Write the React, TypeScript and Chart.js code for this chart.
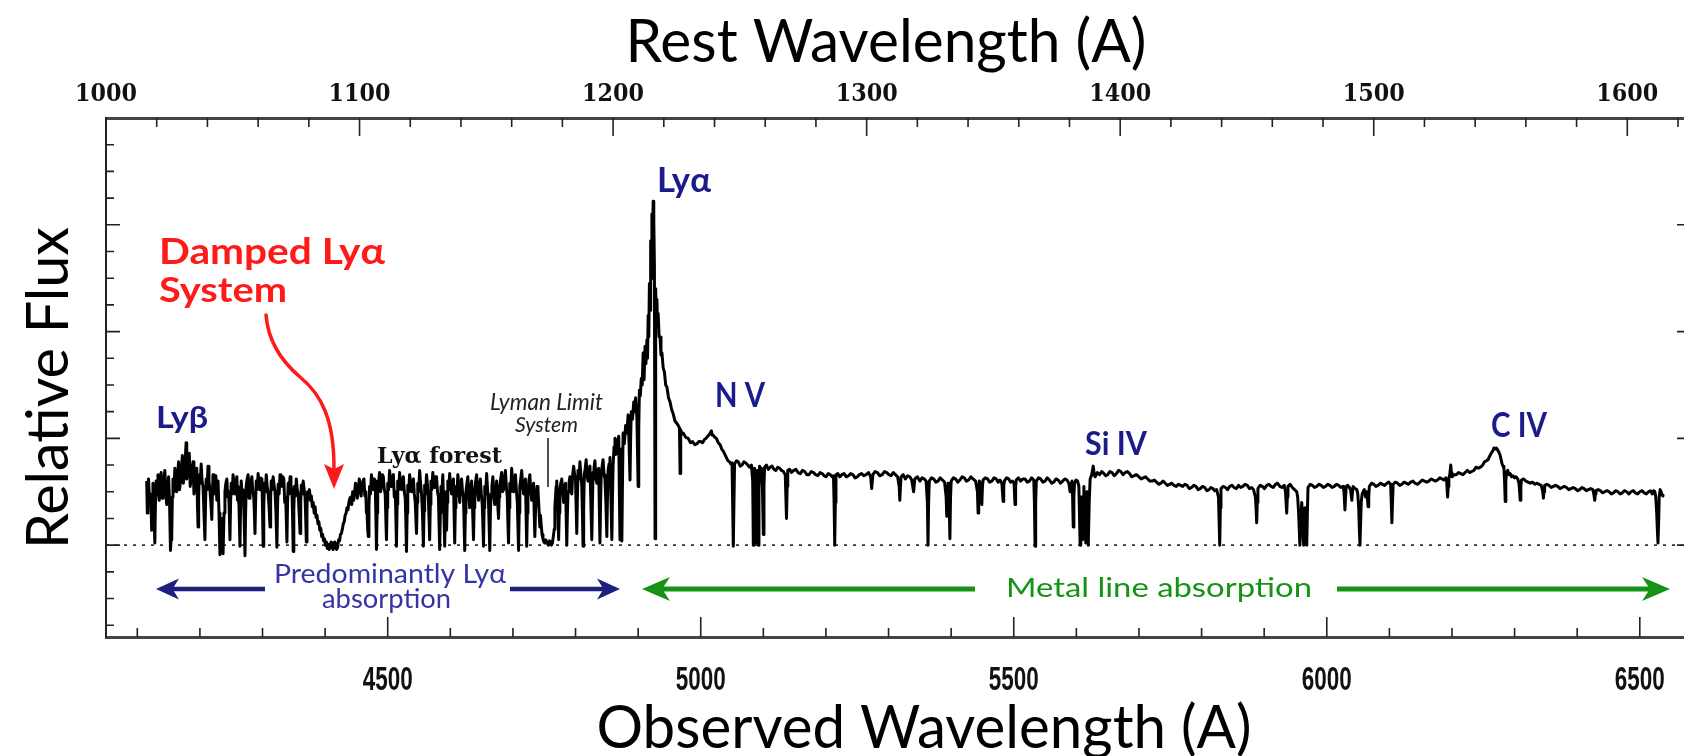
import React, { useEffect, useRef } from 'react';
import { Chart, registerables } from 'chart.js';

Chart.register(...registerables);

// ---------- axis ranges ----------
const REDSHIFT_FACTOR = 4.05; // 1 + z
const REST_MIN = 1000;
const OBS_MAX = 6569;
const OBS_MIN = REST_MIN * REDSHIFT_FACTOR;
const REST_MAX = OBS_MAX / REDSHIFT_FACTOR;
const FLUX_MIN = -0.86;
const FLUX_MAX = 4.0;

// ---------- tick labels ----------
const restTickLabels = [1000, 1100, 1200, 1300, 1400, 1500, 1600];
const observedTickLabels = [4500, 5000, 5500, 6000, 6500];

// ---------- spectrum (observed wavelength [A], relative flux) ----------
const lyForestSpectrum: [number, number][] = [
  [4115, 0.60], [4116, 0.30], [4117, 0.52], [4118, 0.62], [4119.5, 0.40], [4121, 0.48], [4122, 0.35], [4123, 0.14],
  [4124, 0.45], [4125, 0.58], [4126.5, 0.36], [4128, 0.02], [4129, 0.40], [4130, 0.60], [4131.5, 0.50], [4133, 0.66],
  [4134, 0.48], [4135, 0.42], [4136.5, 0.60], [4138, 0.68], [4139.5, 0.44], [4141, 0.52], [4142.5, 0.62], [4144, 0.70],
  [4145.5, 0.48], [4147, 0.38], [4148.5, 0.55], [4150, 0.64], [4151.5, 0.40], [4153, -0.05], [4154, 0.05], [4155, 0.10],
  [4156, 0.45], [4157, 0.62], [4158.5, 0.50], [4160, 0.72], [4161.5, 0.58], [4163, 0.50], [4164.5, 0.68], [4166, 0.78],
  [4167.5, 0.52], [4169, 0.60], [4170.5, 0.72], [4172, 0.84], [4173.5, 0.58], [4175, 0.66], [4176.5, 0.80], [4178, 0.96],
  [4179, 0.62], [4180, 0.70], [4181.5, 0.78], [4183, 0.86], [4184.5, 0.55], [4186, 0.62], [4187.5, 0.72], [4189, 0.78],
  [4190.5, 0.48], [4192, 0.55],
  [4193.5, 0.66], [4195, 0.72], [4196, 0.40], [4197, 0.17], [4198, 0.45], [4199, 0.66], [4200.5, 0.58], [4202, 0.76],
  [4203.5, 0.60], [4205, 0.55], [4206.5, 0.30], [4208, 0.05], [4209, 0.40], [4210, 0.62], [4211.5, 0.52], [4213, 0.74],
  [4214.5, 0.60], [4216, 0.52], [4217.5, 0.40], [4219, 0.24], [4220, 0.50], [4221, 0.66], [4222.5, 0.48], [4224, 0.58],
  [4225.5, 0.65], [4227, 0.42], [4228, 0.55], [4229, 0.60], [4230.5, 0.30], [4232, -0.09], [4233.5, 0.20], [4235, 0.05],
  [4236, 0.25], [4237, -0.08], [4238.5, 0.30], [4240, 0.50],
  [4241.5, 0.58], [4243, 0.62], [4244.5, 0.45], [4246, 0.50], [4247, 0.30], [4248, 0.05], [4249, 0.40], [4250, 0.58],
  [4251.5, 0.48], [4253, 0.66], [4254.5, 0.55], [4256, 0.48], [4257.5, 0.60], [4259, 0.64], [4260, 0.42], [4261, 0.55],
  [4262.5, 0.35], [4264, -0.01], [4265, 0.38], [4266, 0.60], [4267.5, 0.45], [4269, 0.52], [4270.5, 0.28], [4272, -0.10],
  [4273, 0.30], [4274, 0.56], [4275.5, 0.62], [4277, 0.66], [4278.5, 0.44], [4280, 0.50], [4281.5, 0.60], [4283, 0.64],
  [4284.5, 0.50], [4286, 0.45], [4287, 0.30], [4288, 0.11], [4289, 0.42], [4290, 0.60], [4291.5, 0.52], [4293, 0.67],
  [4294.5, 0.56], [4296, 0.52], [4297.5, 0.63], [4299, 0.62], [4300, 0.35], [4301, -0.01], [4302, 0.35], [4303, 0.58],
  [4304.5, 0.50], [4306, 0.66], [4307.5, 0.55], [4309, 0.48], [4310.5, 0.35], [4312, 0.17], [4313, 0.45], [4314, 0.60],
  [4315.5, 0.52], [4317, 0.64], [4318.5, 0.56], [4320, 0.50], [4321.5, 0.30], [4323, -0.02], [4324, 0.35], [4325, 0.57],
  [4326.5, 0.48], [4328, 0.66], [4329.5, 0.58], [4331, 0.55], [4332.5, 0.64], [4334, 0.62], [4335.5, 0.40], [4337, 0.45],
  [4338, 0.25], [4339, 0.03], [4340, 0.40], [4341, 0.58], [4342.5, 0.48], [4344, 0.64], [4345.5, 0.56], [4347, 0.50],
  [4348, 0.28], [4349, -0.06], [4350, 0.32], [4351, 0.55], [4352.5, 0.46], [4354, 0.62], [4355.5, 0.52], [4357, 0.48],
  [4358.5, 0.30], [4360, 0.11], [4361, 0.40], [4362, 0.56], [4363.5, 0.48], [4365, 0.60], [4366.5, 0.52], [4368, 0.45],
  [4369, 0.25], [4370, 0.03], [4371, 0.35], [4372, 0.50], [4373.5, 0.44], [4375, 0.52],
  [4376.5, 0.42], [4378, 0.46], [4379.5, 0.36], [4381, 0.40], [4382.5, 0.30], [4384, 0.36], [4385.5, 0.26], [4387, 0.28],
  [4388.5, 0.20], [4390, 0.22], [4391.5, 0.14], [4393, 0.16], [4394.5, 0.08], [4396, 0.10], [4397.5, 0.04], [4399, 0.06],
  [4400.5, 0.00], [4402, 0.03], [4403.5, -0.03], [4405, 0.01], [4406.5, -0.04], [4408, -0.02], [4409.5, 0.03], [4411, 0.02],
  [4412.5, -0.04], [4414, -0.03], [4415.5, 0.03], [4417, 0.01], [4418.5, -0.04], [4420, -0.02], [4421.5, 0.05], [4423, 0.04],
  [4424.5, 0.10], [4426, 0.11], [4427.5, 0.15], [4429, 0.20], [4430.5, 0.22], [4432, 0.28], [4433.5, 0.30], [4435, 0.35],
  [4436.5, 0.33], [4438, 0.40], [4439.5, 0.44], [4441, 0.45], [4442.5, 0.38], [4444, 0.50], [4445.5, 0.42], [4447, 0.48],
  [4448.5, 0.58], [4450, 0.55], [4451.5, 0.44], [4453, 0.52], [4454.5, 0.62], [4456, 0.58], [4457.5, 0.46], [4459, 0.55],
  [4460.5, 0.60], [4462, 0.62], [4463.5, 0.46], [4465, 0.50], [4466, 0.30], [4467, 0.30], [4468, 0.15], [4469, 0.08],
  [4470, 0.35], [4471, 0.55], [4472.5, 0.48], [4474, 0.66], [4475.5, 0.58], [4477, 0.52], [4478.5, 0.62], [4480, 0.60],
  [4481, 0.30], [4482, -0.04], [4483, 0.30], [4484, 0.52], [4485.5, 0.60], [4487, 0.68], [4488.5, 0.50], [4490, 0.56],
  [4491.5, 0.66], [4493, 0.64], [4494.5, 0.52], [4496, 0.48], [4497, 0.25], [4498, 0.05], [4499, 0.35], [4500, 0.58],
  [4501.5, 0.52], [4503, 0.70], [4504.5, 0.60], [4506, 0.55], [4507.5, 0.64], [4509, 0.66], [4510.5, 0.45], [4512, 0.50],
  [4513, 0.28], [4514, -0.01], [4515, 0.38], [4516, 0.60], [4517.5, 0.52], [4519, 0.68], [4520.5, 0.58], [4522, 0.52],
  [4523.5, 0.60], [4525, 0.64], [4526.5, 0.50], [4528, 0.44], [4529, 0.22], [4530, -0.06], [4531, 0.30], [4532, 0.56],
  [4533.5, 0.50], [4535, 0.66], [4536.5, 0.58], [4538, 0.50], [4539.5, 0.60], [4541, 0.62], [4542.5, 0.48], [4544, 0.40],
  [4545, 0.25], [4546, 0.11], [4547, 0.40], [4548, 0.58], [4549.5, 0.50], [4551, 0.70], [4552.5, 0.58], [4554, 0.48],
  [4555.5, 0.30], [4557, -0.01], [4558, 0.32], [4559, 0.56], [4560.5, 0.48], [4562, 0.66], [4563.5, 0.56], [4565, 0.42],
  [4566, 0.25], [4567, 0.05], [4568, 0.38], [4569, 0.60], [4570.5, 0.52], [4572, 0.68], [4573.5, 0.60], [4575, 0.54],
  [4576.5, 0.64], [4578, 0.64], [4579.5, 0.50], [4581, 0.45], [4582, 0.20], [4583, -0.04], [4584, 0.30], [4585, 0.55],
  [4586.5, 0.48], [4588, 0.66], [4589.5, 0.35], [4591, -0.01], [4592, 0.30], [4593, 0.50], [4594, 0.14], [4595, 0.40],
  [4596, 0.60], [4597.5, 0.52], [4599, 0.67],
  [4600.5, 0.55], [4602, 0.48], [4603.5, 0.58], [4605, 0.62], [4606, 0.30], [4607, 0.02], [4608, 0.35], [4609, 0.55],
  [4610.5, 0.46], [4612, 0.66], [4613.5, 0.55], [4615, 0.40], [4616.5, 0.55], [4618, 0.62], [4619.5, 0.50], [4621, 0.45],
  [4622, 0.20], [4623, -0.05], [4624, 0.30], [4625, 0.50], [4626.5, 0.58], [4628, 0.64], [4629.5, 0.46], [4631, 0.35],
  [4632.5, 0.52], [4634, 0.60], [4635.5, 0.35], [4637, 0.05], [4638, 0.35], [4639, 0.52], [4640.5, 0.60], [4642, 0.66],
  [4643.5, 0.50], [4645, 0.42], [4646.5, 0.55], [4648, 0.62], [4649.5, 0.48], [4651, 0.38], [4652, 0.20], [4653, -0.01],
  [4654, 0.35], [4655, 0.55], [4656.5, 0.48], [4658, 0.67], [4659.5, 0.52], [4661, 0.40], [4662, 0.18], [4663, -0.05],
  [4664, 0.30], [4665, 0.48], [4666.5, 0.56], [4668, 0.64], [4669.5, 0.45], [4671, 0.38], [4672.5, 0.50], [4674, 0.60],
  [4675.5, 0.40], [4677, 0.25], [4678, 0.45], [4679, 0.55], [4680.5, 0.62], [4682, 0.68], [4683.5, 0.50],
  [4685, 0.52], [4686.5, 0.62], [4688, 0.70], [4689.5, 0.55], [4691, 0.45], [4692, 0.20], [4693, 0.02], [4694, 0.35],
  [4695, 0.58], [4696.5, 0.50], [4698, 0.72], [4699.5, 0.60], [4701, 0.50], [4702.5, 0.62], [4704, 0.66], [4705.5, 0.52],
  [4707, 0.40], [4708, 0.18], [4709, -0.05], [4710, 0.30], [4711, 0.55], [4712.5, 0.62], [4714, 0.70], [4715.5, 0.55],
  [4717, 0.48], [4718.5, 0.58], [4720, 0.62], [4721, 0.30], [4722, -0.01], [4723, 0.30], [4724, 0.50], [4725.5, 0.60],
  [4727, 0.66], [4728.5, 0.50], [4730, 0.42], [4731.5, 0.52], [4733, 0.58], [4734, 0.30], [4735, 0.08], [4736, 0.30],
  [4737, 0.45], [4738.5, 0.55], [4740, 0.52], [4741.5, 0.35], [4743, 0.17], [4744, 0.28], [4745, 0.20],
  [4746.5, 0.10], [4748, 0.06], [4749.5, 0.03], [4751, 0.02], [4752.5, 0.05], [4754, 0.03], [4755.5, 0.01], [4757, 0.00],
  [4758.5, 0.04], [4760, 0.03], [4761.5, 0.00], [4763, 0.02], [4764.5, 0.08], [4766, 0.15],
  [4767, 0.35], [4768, 0.45], [4769, 0.55], [4770, 0.60], [4771.5, 0.40], [4773, 0.05], [4774, 0.30], [4775, 0.52],
  [4776.5, 0.58], [4778, 0.62], [4779.5, 0.50], [4781, 0.40], [4782.5, 0.55], [4784, 0.58], [4785, 0.30], [4786, 0.00],
  [4787, 0.30], [4788, 0.50], [4789.5, 0.58], [4791, 0.64], [4792.5, 0.52], [4794, 0.48], [4795.5, 0.66],
  [4797, 0.74], [4798.5, 0.66], [4800, 0.62], [4801, 0.35], [4802, 0.11], [4803, 0.45], [4804, 0.70], [4805.5, 0.62],
  [4807, 0.78], [4808.5, 0.66], [4810, 0.55], [4811, 0.30], [4812, -0.01], [4813, 0.35], [4814, 0.66], [4815.5, 0.72],
  [4817, 0.80], [4818.5, 0.64], [4820, 0.60], [4821.5, 0.70], [4823, 0.74], [4824.5, 0.40], [4826, 0.05], [4827, 0.40],
  [4828, 0.68], [4829.5, 0.72], [4831, 0.79], [4832.5, 0.62], [4834, 0.58], [4835.5, 0.70], [4837, 0.72], [4838, 0.35],
  [4839, 0.02], [4840, 0.40], [4841, 0.66], [4842.5, 0.74], [4844, 0.80], [4845.5, 0.66], [4847, 0.62], [4848.5, 0.40],
  [4850, 0.08], [4851, 0.45], [4852, 0.70], [4853.5, 0.76], [4855, 0.82], [4856.5, 0.45], [4858, 0.05], [4859, 0.45],
  [4860, 0.75], [4861.5, 0.92],
  [4863, 1.00], [4864.5, 0.85], [4866, 0.88], [4867.5, 0.98], [4869, 1.02], [4870, 0.50], [4871, 0.05], [4872, 0.50],
  [4873, 0.90], [4874, 0.04], [4875, 0.60], [4876, 1.05], [4878, 0.95], [4880, 1.12], [4882, 1.05], [4884, 1.22],
  [4885.5, 0.95], [4887, 0.61], [4888, 1.00], [4889, 1.25], [4891, 1.18], [4893, 1.34], [4894.5, 1.25], [4896, 1.38],
  [4898, 1.20], [4900, 0.55], [4901, 1.10], [4902, 1.45], [4903.5, 1.40], [4905, 1.56],
];

const lyAlphaEmission: [number, number][] = [
  [4906.5, 1.50], [4908, 1.80], [4909.5, 1.55], [4911, 1.86], [4912.5, 1.70], [4914, 1.92], [4915, 1.75], [4916, 2.15],
  [4917, 1.95], [4918, 2.45], [4919, 2.20], [4920, 2.85], [4921, 2.50], [4922, 3.10], [4923, 2.90], [4924, 3.22],
  [4925, 3.05], [4926, 2.60], [4927, 0.06], [4928, 2.40], [4929, 2.10], [4930, 2.30], [4931, 2.05], [4932, 2.17],
  [4933.5, 1.95], [4935, 1.95], [4936.5, 1.78], [4938, 1.80], [4940, 1.66], [4942, 1.62], [4944, 1.50], [4946, 1.48],
  [4948.5, 1.38], [4951, 1.34], [4953.5, 1.27], [4956, 1.23], [4959, 1.16], [4962, 1.14], [4964, 1.12], [4966, 1.10],
  [4967, 0.67], [4968, 1.08], [4970, 1.04], [4972, 1.05], [4976, 1.01], [4980, 1.00], [4983.5, 0.96], [4987, 0.97],
  [4990.5, 0.94], [4994, 0.95], [4997, 0.97], [5000, 0.97], [5003, 0.96], [5006, 0.99], [5008.5, 1.00], [5011, 1.02],
  [5013, 1.03], [5015, 1.05], [5017, 1.07], [5018.5, 1.03], [5020, 1.03], [5022.5, 1.01], [5025, 1.00], [5028, 0.96],
  [5031, 0.94], [5033.5, 0.90], [5036, 0.88], [5038.5, 0.85], [5041, 0.82], [5043.5, 0.79], [5046, 0.78], [5048, 0.76],
];

const metalLineSpectrum: [number, number][] = [
  [5050, 0.77], [5052, -0.01], [5054, 0.76], [5057, 0.79], [5060, 0.78], [5063, 0.74], [5066, 0.75], [5069, 0.78],
  [5072, 0.77], [5075, 0.75], [5078, 0.73], [5081, 0.75], [5083, 0.60], [5084, 0.00], [5085, 0.50], [5086, 0.72],
  [5087, 0.40], [5088, 0.02], [5089, 0.45], [5090, 0.70], [5091, 0.40], [5092, 0.00], [5093, 0.50], [5094, 0.74],
  [5095.5, 0.70], [5097, 0.72], [5098.5, 0.55], [5100, 0.10], [5101, 0.55], [5102, 0.73], [5105, 0.75], [5108, 0.71],
  [5111, 0.73], [5114, 0.74], [5117, 0.71], [5120, 0.70], [5123, 0.73], [5126, 0.72], [5129, 0.70], [5132, 0.69],
  [5135, 0.66], [5137, 0.25], [5138, 0.55], [5139, 0.70], [5142, 0.71], [5145, 0.68], [5148.5, 0.70], [5152, 0.71],
  [5155.5, 0.68], [5159, 0.67], [5162.5, 0.70], [5166, 0.69], [5169.5, 0.66], [5173, 0.66], [5176.5, 0.69], [5180, 0.68],
  [5183.5, 0.66], [5187, 0.65], [5190.5, 0.68], [5194, 0.67], [5197, 0.65], [5200, 0.64], [5203.5, 0.67], [5207, 0.66],
  [5210, 0.64], [5212, 0.65], [5213, 0.40], [5214, 0.00], [5215, 0.40], [5216, 0.66], [5219, 0.67], [5222, 0.64],
  [5225.5, 0.66], [5229, 0.67], [5232.5, 0.64], [5236, 0.65], [5239.5, 0.67], [5243, 0.66], [5246.5, 0.63], [5250, 0.64],
  [5253.5, 0.66], [5257, 0.67], [5260.5, 0.65], [5264, 0.66], [5268, 0.68], [5271.5, 0.64], [5273, 0.53], [5275, 0.66],
  [5278.5, 0.69], [5282, 0.68], [5286, 0.65], [5290, 0.66], [5293.5, 0.69], [5297, 0.68], [5300.5, 0.66], [5304, 0.65],
  [5307.5, 0.68], [5311, 0.66], [5314.5, 0.64], [5317, 0.55], [5318, 0.42], [5319, 0.55], [5320, 0.64], [5323.5, 0.66],
  [5327, 0.62], [5330.5, 0.65], [5334, 0.64], [5337, 0.61], [5340, 0.50], [5342, 0.62], [5346, 0.64], [5350, 0.60],
  [5353.5, 0.63], [5357, 0.62], [5360, 0.60], [5362, 0.40], [5363, 0.00], [5364, 0.40], [5365, 0.60], [5368.5, 0.63],
  [5372, 0.62], [5375.5, 0.59], [5379, 0.60], [5382.5, 0.63], [5386, 0.61], [5389.5, 0.59], [5392, 0.45], [5393, 0.27],
  [5394, 0.45], [5395, 0.58], [5396.5, 0.50], [5398, 0.06], [5399, 0.45], [5400, 0.60], [5403.5, 0.63], [5407, 0.62],
  [5410.5, 0.59], [5414, 0.61], [5417.5, 0.64], [5421, 0.63], [5424.5, 0.60], [5428, 0.61], [5431.5, 0.64], [5435, 0.62],
  [5439, 0.60], [5442, 0.50], [5443, 0.30], [5444, 0.50], [5445, 0.60], [5447, 0.58], [5449, 0.38], [5450, 0.55],
  [5451, 0.61], [5454.5, 0.63], [5458, 0.62], [5461.5, 0.59], [5465, 0.60], [5468.5, 0.63], [5472, 0.62], [5475, 0.59],
  [5478, 0.61], [5481, 0.58], [5483, 0.41], [5484, 0.55], [5485, 0.60], [5488.5, 0.63], [5492, 0.62], [5495, 0.59],
  [5498, 0.60], [5500.5, 0.58], [5502, 0.38], [5503, 0.55], [5504, 0.61], [5507.5, 0.63], [5511, 0.60], [5514.5, 0.62],
  [5518, 0.62], [5521.5, 0.59], [5525, 0.60], [5528.5, 0.63], [5532, 0.61], [5533, 0.40], [5534, -0.01], [5535, 0.40],
  [5536, 0.60], [5539.5, 0.63], [5543, 0.62], [5546.5, 0.59], [5550, 0.60], [5553.5, 0.63], [5557, 0.61], [5560.5, 0.58],
  [5564, 0.59], [5567.5, 0.62], [5571, 0.61], [5574.5, 0.58], [5578, 0.60], [5581.5, 0.62], [5585, 0.61], [5588, 0.58],
  [5590, 0.50], [5591.5, 0.58], [5593, 0.60], [5594, 0.45], [5595, 0.17], [5596, 0.45], [5597, 0.58], [5599.5, 0.61],
  [5602, 0.60], [5604, 0.55], [5606, 0.00], [5607, 0.30], [5608, 0.45], [5609, 0.30], [5610, 0.05], [5611, 0.30],
  [5612, 0.55], [5613.5, 0.30], [5615, 0.02], [5616, 0.30], [5617, 0.50], [5618, 0.30], [5619, 0.00], [5620.5, 0.40],
  [5622, 0.62], [5624.5, 0.66], [5627, 0.74], [5628.5, 0.66], [5630, 0.64], [5633.5, 0.68], [5637, 0.66], [5640.5, 0.69],
  [5644, 0.67], [5647, 0.65], [5650, 0.66], [5653.5, 0.69], [5657, 0.68], [5660.5, 0.65], [5664, 0.67], [5667.5, 0.70],
  [5671, 0.69], [5674.5, 0.66], [5678, 0.68], [5681.5, 0.69], [5685, 0.67], [5688.5, 0.64], [5692, 0.65], [5696, 0.66],
  [5700, 0.64], [5703.5, 0.62], [5707, 0.63], [5710.5, 0.64], [5714, 0.62], [5717.5, 0.60], [5721, 0.60], [5724.5, 0.61],
  [5728, 0.59], [5731.5, 0.57], [5735, 0.58], [5738.5, 0.60], [5742, 0.58], [5745.5, 0.56], [5749, 0.57], [5752.5, 0.58],
  [5756, 0.56], [5759.5, 0.55], [5763, 0.57], [5766.5, 0.56], [5770, 0.55], [5773.5, 0.57], [5777, 0.56], [5780.5, 0.53],
  [5784, 0.54], [5787.5, 0.56], [5791, 0.55], [5794.5, 0.52], [5798, 0.53], [5801.5, 0.55], [5805, 0.54], [5808.5, 0.51],
  [5812, 0.52], [5815, 0.54], [5818, 0.53], [5821, 0.51], [5824, 0.52], [5827, 0.45], [5829, 0.00], [5830, 0.35],
  [5831, 0.53], [5834.5, 0.55], [5838, 0.54], [5841.5, 0.52], [5845, 0.55], [5848.5, 0.56], [5852, 0.54], [5855.5, 0.53],
  [5859, 0.56], [5862.5, 0.54], [5866, 0.55], [5869.5, 0.57], [5873, 0.56], [5876.5, 0.53], [5880, 0.54], [5883, 0.52],
  [5886, 0.45], [5887, 0.35], [5888, 0.21], [5889, 0.40], [5890, 0.53], [5893.5, 0.56], [5897, 0.55], [5900.5, 0.53],
  [5904, 0.56], [5907.5, 0.57], [5911, 0.55], [5914.5, 0.54], [5918, 0.57], [5921.5, 0.58], [5925, 0.55], [5928.5, 0.54],
  [5932, 0.56], [5934, 0.50], [5936, 0.30], [5937, 0.45], [5938, 0.55], [5941.5, 0.57], [5945, 0.54], [5948.5, 0.52],
  [5952, 0.50], [5953.5, 0.45], [5955, 0.30], [5956, 0.15], [5957, 0.00], [5958.5, 0.20], [5960, 0.40], [5961.5, 0.20],
  [5963, 0.00], [5964, 0.20], [5965, 0.35], [5966.5, 0.15], [5968, 0.00], [5969, 0.30], [5970, 0.54], [5973.5, 0.57],
  [5977, 0.56], [5980.5, 0.54], [5984, 0.55], [5987.5, 0.57], [5991, 0.56], [5994.5, 0.54], [5998, 0.55], [6001.5, 0.57],
  [6005, 0.56], [6008.5, 0.54], [6012, 0.55], [6015.5, 0.57], [6019, 0.56], [6022.5, 0.54], [6026, 0.55], [6027.5, 0.50],
  [6029, 0.33], [6030, 0.45], [6031, 0.55], [6033.5, 0.56], [6036, 0.54], [6038, 0.52], [6040, 0.42], [6041, 0.50],
  [6042, 0.55], [6045, 0.53], [6048, 0.52], [6049.5, 0.48], [6051, 0.35], [6052, 0.15], [6053, 0.00], [6054, 0.20],
  [6055, 0.40], [6056.5, 0.48], [6058, 0.50], [6060, 0.52], [6062, 0.45], [6064, 0.50], [6066, 0.36], [6067, 0.45],
  [6068, 0.55], [6071.5, 0.58], [6075, 0.57], [6078.5, 0.55], [6082, 0.56], [6085.5, 0.58], [6089, 0.57], [6092.5, 0.56],
  [6096, 0.58], [6099, 0.59], [6102, 0.57], [6103, 0.40], [6104, 0.21], [6105, 0.40], [6106, 0.57], [6109.5, 0.59],
  [6113, 0.58], [6116.5, 0.56], [6120, 0.57], [6123.5, 0.59], [6127, 0.58], [6130.5, 0.57], [6134, 0.59], [6137.5, 0.60],
  [6141, 0.58], [6145, 0.57], [6149, 0.59], [6152.5, 0.61], [6156, 0.60], [6159.5, 0.59], [6163, 0.60], [6166.5, 0.62],
  [6170, 0.61], [6173.5, 0.60], [6177, 0.61], [6180.5, 0.63], [6184, 0.62], [6187, 0.61], [6190, 0.63], [6191.5, 0.60],
  [6193, 0.45], [6194, 0.55], [6195, 0.63], [6196.5, 0.66], [6198, 0.75], [6199, 0.68], [6200, 0.64], [6203.5, 0.66],
  [6207, 0.66], [6210.5, 0.68], [6214, 0.67], [6217.5, 0.66], [6221, 0.68], [6224.5, 0.70], [6228, 0.68], [6231.5, 0.69],
  [6235, 0.70], [6238.5, 0.73], [6242, 0.72], [6245.5, 0.73], [6249, 0.75], [6252, 0.78], [6255, 0.79], [6257.5, 0.80],
  [6260, 0.83], [6262.5, 0.86], [6265, 0.88], [6267, 0.91], [6269, 0.90], [6271, 0.91], [6273, 0.89], [6275, 0.87],
  [6277, 0.84], [6278.5, 0.80], [6280, 0.76], [6281.5, 0.74], [6283, 0.72], [6284, 0.60], [6285, 0.41], [6286, 0.60],
  [6287, 0.68], [6289, 0.70], [6291, 0.66], [6293, 0.67], [6295, 0.64], [6297.5, 0.65], [6300, 0.63], [6302.5, 0.64],
  [6305, 0.62], [6307, 0.58], [6309, 0.42], [6310, 0.55], [6311, 0.61], [6314.5, 0.62], [6318, 0.60], [6321.5, 0.59],
  [6325, 0.58], [6328.5, 0.59], [6332, 0.57], [6335.5, 0.58], [6339, 0.57], [6342.5, 0.56], [6345, 0.50], [6346, 0.44],
  [6347, 0.50], [6348, 0.56], [6351.5, 0.57], [6355, 0.56], [6358.5, 0.54], [6362, 0.55], [6365.5, 0.56], [6369, 0.55],
  [6372.5, 0.53], [6376, 0.54], [6379.5, 0.55], [6383, 0.54], [6386.5, 0.52], [6390, 0.53], [6393.5, 0.54], [6397, 0.53],
  [6400.5, 0.51], [6404, 0.52], [6407.5, 0.54], [6411, 0.53], [6414.5, 0.51], [6418, 0.52], [6421.5, 0.53], [6425, 0.52],
  [6426.5, 0.48], [6428, 0.42], [6429, 0.48], [6430, 0.51], [6433.5, 0.52], [6437, 0.51], [6440.5, 0.49], [6444, 0.50],
  [6447.5, 0.51], [6451, 0.50], [6454.5, 0.48], [6458, 0.49], [6461.5, 0.51], [6465, 0.50], [6468.5, 0.48], [6472, 0.49],
  [6475.5, 0.51], [6479, 0.50], [6482.5, 0.48], [6486, 0.50], [6489.5, 0.51], [6493, 0.49], [6496.5, 0.48], [6500, 0.50],
  [6503.5, 0.51], [6507, 0.49], [6510.5, 0.48], [6514, 0.50], [6517, 0.51], [6520, 0.48], [6522, 0.51], [6524, 0.50],
  [6525.5, 0.45], [6527, 0.30], [6528, 0.15], [6529, 0.02], [6530, 0.20], [6531, 0.45], [6532.5, 0.52], [6534, 0.50],
  [6535.5, 0.47], [6537, 0.46],
];

const zeroLevel: [number, number][] = [[OBS_MIN, 0], [OBS_MAX, 0]];

// ---------- styling ----------
const SANS = 'Lato, "Open Sans", "Noto Sans", "DejaVu Sans", sans-serif';
const SERIF = '"DejaVu Serif", "Liberation Serif", serif';
const TICK_SANS = '"Liberation Sans", Arimo, "DejaVu Sans", sans-serif';
const RED = '#ff1a1a';
const NAVY = '#1b1b8c';
const SOFT_BLUE = '#3434a2';
const ARROW_BLUE = '#1f1f7e';
const GREEN = '#159315';

type Note = {
  text: string; x: number; y: number; w: number; cap: number;
  color: string; weight?: string; style?: string; family?: string; capRatio?: number;
};

const notes: Note[] = [
  { text: 'Damped Lyα', x: 159, y: 264, w: 226, cap: 26, color: RED, weight: 'bold' },
  { text: 'System', x: 159, y: 302, w: 128, cap: 25, color: RED, weight: 'bold' },
  { text: 'Lyα', x: 657, y: 192, w: 54, cap: 24, color: NAVY, weight: 'bold' },
  { text: 'Lyβ', x: 156, y: 428, w: 52, cap: 22, color: NAVY, weight: 'bold' },
  { text: 'N V', x: 715, y: 407, w: 50, cap: 24, color: NAVY, weight: 'bold' },
  { text: 'Si IV', x: 1085, y: 455, w: 62, cap: 23, color: NAVY, weight: 'bold' },
  { text: 'C IV', x: 1491, y: 437, w: 56, cap: 24, color: NAVY, weight: 'bold' },
  { text: 'Lyα forest', x: 377, y: 463, w: 125, cap: 16, color: '#111', weight: 'bold', family: SERIF, capRatio: 0.729 },
  { text: 'Lyman Limit', x: 490, y: 410, w: 113, cap: 16, color: '#222', style: 'italic' },
  { text: 'System', x: 515, y: 432, w: 63, cap: 15, color: '#222', style: 'italic' },
  { text: 'Predominantly Lyα', x: 274, y: 583, w: 232, cap: 19, color: SOFT_BLUE },
  { text: 'absorption', x: 322, y: 608, w: 129, cap: 19, color: SOFT_BLUE },
  { text: 'Metal line absorption', x: 1006, y: 597, w: 306, cap: 19, color: GREEN },
];

function drawFitted(
  ctx: CanvasRenderingContext2D, text: string, x: number, baseline: number, width: number, cap: number,
  color: string, opts: { weight?: string; style?: string; family?: string; capRatio?: number; align?: CanvasTextAlign; rotate?: number } = {}
) {
  const size = cap / (opts.capRatio ?? 0.7165);
  ctx.save();
  ctx.font = `${opts.style ?? 'normal'} ${opts.weight ?? 'normal'} ${size}px ${opts.family ?? SANS}`;
  const w = ctx.measureText(text).width || 1;
  ctx.translate(x, baseline);
  if (opts.rotate) ctx.rotate(opts.rotate);
  ctx.scale(width / w, 1);
  ctx.textAlign = opts.align ?? 'left';
  ctx.textBaseline = 'alphabetic';
  ctx.fillStyle = color;
  ctx.fillText(text, 0, 0);
  ctx.restore();
}

function drawArrow(ctx: CanvasRenderingContext2D, from: number, tip: number, y: number, color: string, lw: number, len: number, half: number) {
  const dir = tip > from ? 1 : -1;
  ctx.save();
  ctx.strokeStyle = color;
  ctx.fillStyle = color;
  ctx.lineWidth = lw;
  ctx.beginPath();
  ctx.moveTo(from, y);
  ctx.lineTo(tip - dir * len * 0.7, y);
  ctx.stroke();
  ctx.beginPath();
  ctx.moveTo(tip, y);
  ctx.lineTo(tip - dir * len, y - half);
  ctx.lineTo(tip - dir * len * 0.72, y);
  ctx.lineTo(tip - dir * len, y + half);
  ctx.closePath();
  ctx.fill();
  ctx.restore();
}

const overlayPlugin = {
  id: 'spectrumOverlay',
  afterDraw(chart: any) {
    const ctx: CanvasRenderingContext2D = chart.ctx;
    const { top, bottom, left } = chart.chartArea;
    const W = chart.width;
    const xs = chart.scales.x;
    const xt = chart.scales.xTop;
    const yl = chart.scales.y;
    const yr = chart.scales.yRight;

    // inward tick marks
    ctx.save();
    ctx.strokeStyle = '#222';
    ctx.lineWidth = 1.6;
    ctx.beginPath();
    xt.ticks.forEach((t: any) => {
      const px = xt.getPixelForValue(t.value);
      const major = Math.abs(t.value % 100) < 1e-6;
      ctx.moveTo(px, top);
      ctx.lineTo(px, top + (major ? 18 : 9));
    });
    xs.ticks.forEach((t: any) => {
      const px = xs.getPixelForValue(t.value);
      const major = Math.abs(t.value % 500) < 1e-6;
      ctx.moveTo(px, bottom);
      ctx.lineTo(px, bottom - (major ? 20 : 9));
    });
    yl.ticks.forEach((t: any) => {
      if (t.value >= FLUX_MAX - 1e-6) return;
      const py = yl.getPixelForValue(t.value);
      const major = Math.abs(t.value - Math.round(t.value)) < 1e-6;
      ctx.moveTo(left, py);
      ctx.lineTo(left + (major ? 14 : 8), py);
    });
    yr.ticks.forEach((t: any) => {
      if (t.value >= FLUX_MAX - 1e-6) return;
      const py = yr.getPixelForValue(t.value);
      ctx.moveTo(W, py);
      ctx.lineTo(W - 7, py);
    });
    ctx.stroke();

    // Lyman limit marker
    ctx.lineWidth = 1.6;
    ctx.beginPath();
    ctx.moveTo(548, 438);
    ctx.lineTo(548, 487);
    ctx.stroke();
    ctx.restore();

    // tick labels
    restTickLabels.forEach((v) => {
      drawFitted(ctx, String(v), xt.getPixelForValue(v), 101, 62, 18, '#111', { family: SERIF, weight: 'bold', capRatio: 0.729, align: 'center' });
    });
    observedTickLabels.forEach((v) => {
      drawFitted(ctx, String(v), xs.getPixelForValue(v), 690, 50, 24, '#111', { family: TICK_SANS, weight: 'bold', capRatio: 0.716, align: 'center' });
    });

    // axis titles
    drawFitted(ctx, 'Rest Wavelength (A)', 886, 62, 521, 43, '#000', { align: 'center' });
    drawFitted(ctx, 'Observed Wavelength (A)', 924, 748, 655, 43, '#000', { align: 'center' });
    drawFitted(ctx, 'Relative Flux', 68, 388, 322, 42, '#000', { align: 'center', rotate: -Math.PI / 2 });

    // annotations
    notes.forEach((n) => {
      drawFitted(ctx, n.text, n.x, n.y, n.w, n.cap, n.color, {
        weight: n.weight, style: n.style, family: n.family, capRatio: n.capRatio,
      });
    });

    // red curved arrow
    ctx.save();
    ctx.strokeStyle = RED;
    ctx.fillStyle = RED;
    ctx.lineWidth = 3.5;
    ctx.lineCap = 'round';
    ctx.beginPath();
    ctx.moveTo(266, 315);
    ctx.bezierCurveTo(268, 340, 280, 360, 300, 377);
    ctx.bezierCurveTo(322, 395, 334, 420, 334, 468);
    ctx.stroke();
    ctx.beginPath();
    ctx.moveTo(334, 489);
    ctx.lineTo(324, 464);
    ctx.lineTo(334, 469);
    ctx.lineTo(344, 464);
    ctx.closePath();
    ctx.fill();
    ctx.restore();

    // region arrows
    drawArrow(ctx, 265, 156, 589, ARROW_BLUE, 4.5, 23, 10.5);
    drawArrow(ctx, 510, 620, 589, ARROW_BLUE, 4.5, 23, 10.5);
    drawArrow(ctx, 975, 642, 589, GREEN, 5, 28, 12);
    drawArrow(ctx, 1337, 1670, 589, GREEN, 5, 28, 12);
  },
};

export default function App() {
  const canvasRef = useRef<HTMLCanvasElement | null>(null);

  useEffect(() => {
    if (!canvasRef.current) return;
    const spectrum = [...lyForestSpectrum, ...lyAlphaEmission, ...metalLineSpectrum];
    const chart = new Chart(canvasRef.current, {
      type: 'line',
      data: {
        datasets: [
          {
            label: 'Spectrum',
            data: spectrum.map(([x, y]) => ({ x, y })),
            borderColor: '#000',
            borderWidth: 3.0,
            borderJoinStyle: 'round',
            pointRadius: 0,
            tension: 0,
            fill: false,
          },
          {
            label: 'Zero level',
            data: zeroLevel.map(([x, y]) => ({ x, y })),
            borderColor: '#333',
            borderWidth: 1.6,
            borderDash: [3, 6],
            pointRadius: 0,
            fill: false,
          },
        ],
      },
      options: {
        animation: false,
        responsive: false,
        events: [],
        layout: { padding: 0 },
        plugins: { legend: { display: false }, tooltip: { enabled: false }, title: { display: false } },
        scales: {
          x: {
            type: 'linear', position: 'bottom', min: OBS_MIN, max: OBS_MAX,
            ticks: { display: false, stepSize: 100, includeBounds: false },
            grid: { display: false, drawTicks: false },
            border: { display: true, color: '#444', width: 3 },
            afterFit: (s: any) => { s.height = 119; },
          },
          xTop: {
            type: 'linear', position: 'top', min: REST_MIN, max: REST_MAX,
            ticks: { display: false, stepSize: 20, includeBounds: false },
            grid: { display: false, drawTicks: false },
            border: { display: true, color: '#444', width: 3 },
            afterFit: (s: any) => { s.height = 118; },
          },
          y: {
            type: 'linear', position: 'left', min: FLUX_MIN, max: FLUX_MAX,
            ticks: { display: false, stepSize: 0.25, includeBounds: false },
            grid: { display: false, drawTicks: false },
            border: { display: true, color: '#222', width: 2 },
            afterFit: (s: any) => { s.width = 106; },
          },
          yRight: {
            type: 'linear', position: 'right', min: FLUX_MIN, max: FLUX_MAX,
            ticks: { display: false, stepSize: 1, includeBounds: false },
            grid: { display: false, drawTicks: false },
            border: { display: false },
            afterFit: (s: any) => { s.width = 1; },
          },
        },
      } as any,
      plugins: [overlayPlugin],
    });
    return () => chart.destroy();
  }, []);

  return (
    <div style={{ position: 'absolute', left: 0, top: 0, width: 1684, height: 756, background: '#fff' }}>
      <canvas ref={canvasRef} width={1684} height={756} style={{ display: 'block' }} />
    </div>
  );
}
